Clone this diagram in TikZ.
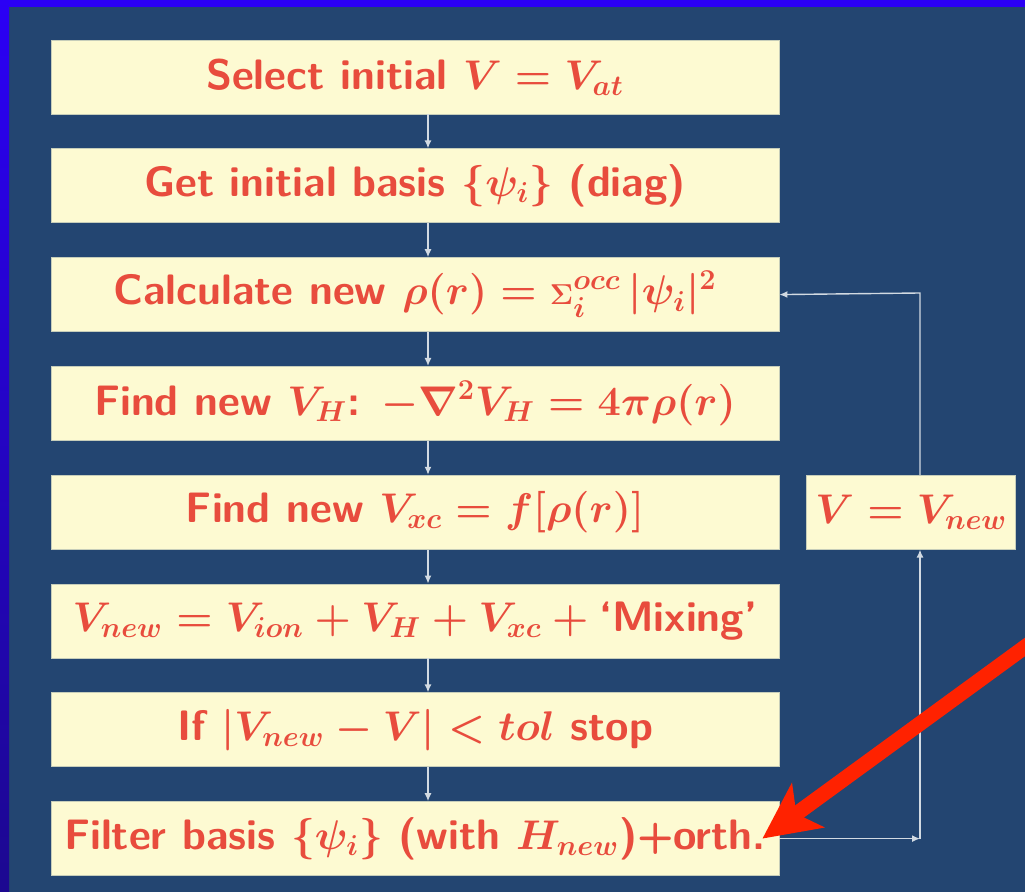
\documentclass[tikz,border=0pt]{standalone}
\usepackage{amsmath,amssymb}
\usetikzlibrary{arrows.meta,positioning}
\definecolor{slidebg}{HTML}{234571}
\definecolor{framebl}{HTML}{2B00F5}
\definecolor{framedk}{HTML}{1C0890}
\definecolor{boxfill}{HTML}{FDFAD2}
\definecolor{boxtext}{HTML}{E84C3D}
\definecolor{loopgray}{HTML}{D2DAE2}
\definecolor{pointred}{HTML}{FF2200}
\tikzset{
	stepbox/.style={fill=boxfill, draw=boxfill!75!slidebg, line width=0.4pt,
		minimum width=364pt, minimum height=37pt, inner sep=0pt, text=boxtext,
		font=\fontsize{21.3}{24}\selectfont\sffamily\bfseries\boldmath},
	flow/.style={draw=loopgray, line width=0.7pt, -{Latex[length=4pt,width=3.5pt]}},
}

\begin{document}
\begin{tikzpicture}[x=0.5pt,y=-0.5pt]
	% slide background and frame
	\path[use as bounding box] (0,0) rectangle (1025,892);
	\fill[slidebg] (0,0) rectangle (1025,892);
	\fill[framebl] (0,0) rectangle (1025,7);
	\shade[top color=framebl,bottom color=framedk] (0,0) rectangle (9,892);

	% the loop
	\node[stepbox] (sel) at (415,77) {Select initial $V = V_{at}$};
	\node[stepbox, below=17pt of sel] (basis) {Get initial basis $\{\psi_i\}$ (diag)};
	\node[stepbox, below=17pt of basis] (dens) {Calculate new $\rho(r) = {\scriptstyle\Sigma}_i^{occ}\,|\psi_i|^2$};
	\node[stepbox, below=17pt of dens] (hart) {Find new $V_H$: $-\nabla^2 V_H = 4\pi\rho(r)$};
	\node[stepbox, below=17pt of hart] (xc) {Find new $V_{xc} = f[\rho(r)]$};
	\node[stepbox, below=17pt of xc] (mix) {$V_{new} = V_{ion} + V_H + V_{xc} +{}$`Mixing'};
	\node[stepbox, below=17pt of mix] (conv) {If $|V_{new} - V| < tol$ stop};
	\node[stepbox, below=17pt of conv] (filt) {Filter basis $\{\psi_i\}$ (with $H_{new}$)+orth.};
	\node[stepbox, minimum width=104.5pt, right=13.5pt of xc] (vnew) {$V = V_{new}$};

	\foreach \a/\b in {sel/basis, basis/dens, dens/hart, hart/xc, xc/mix, mix/conv, conv/filt}
		\draw[flow] ([xshift=6.5pt]\a.south) -- ([xshift=6.5pt]\b.north);

	% feedback path
	\coordinate (looptop) at (920,293);
	\coordinate (loopbot) at (filt.east -| looptop);
	\draw[flow] (filt.east) -- (loopbot);
	\draw[flow] (loopbot) -- (vnew.south -| loopbot);
	\draw[flow] (vnew.north -| looptop) -- (looptop) -- (dens.east);

	% pointer
	\coordinate (redtail) at (1040,636);
	\draw[pointred, line width=7.5pt, -{Stealth[length=28pt,width=27pt,inset=7pt]}]
		(redtail) -- ([xshift=-8.5pt]filt.east);
\end{tikzpicture}
\end{document}
